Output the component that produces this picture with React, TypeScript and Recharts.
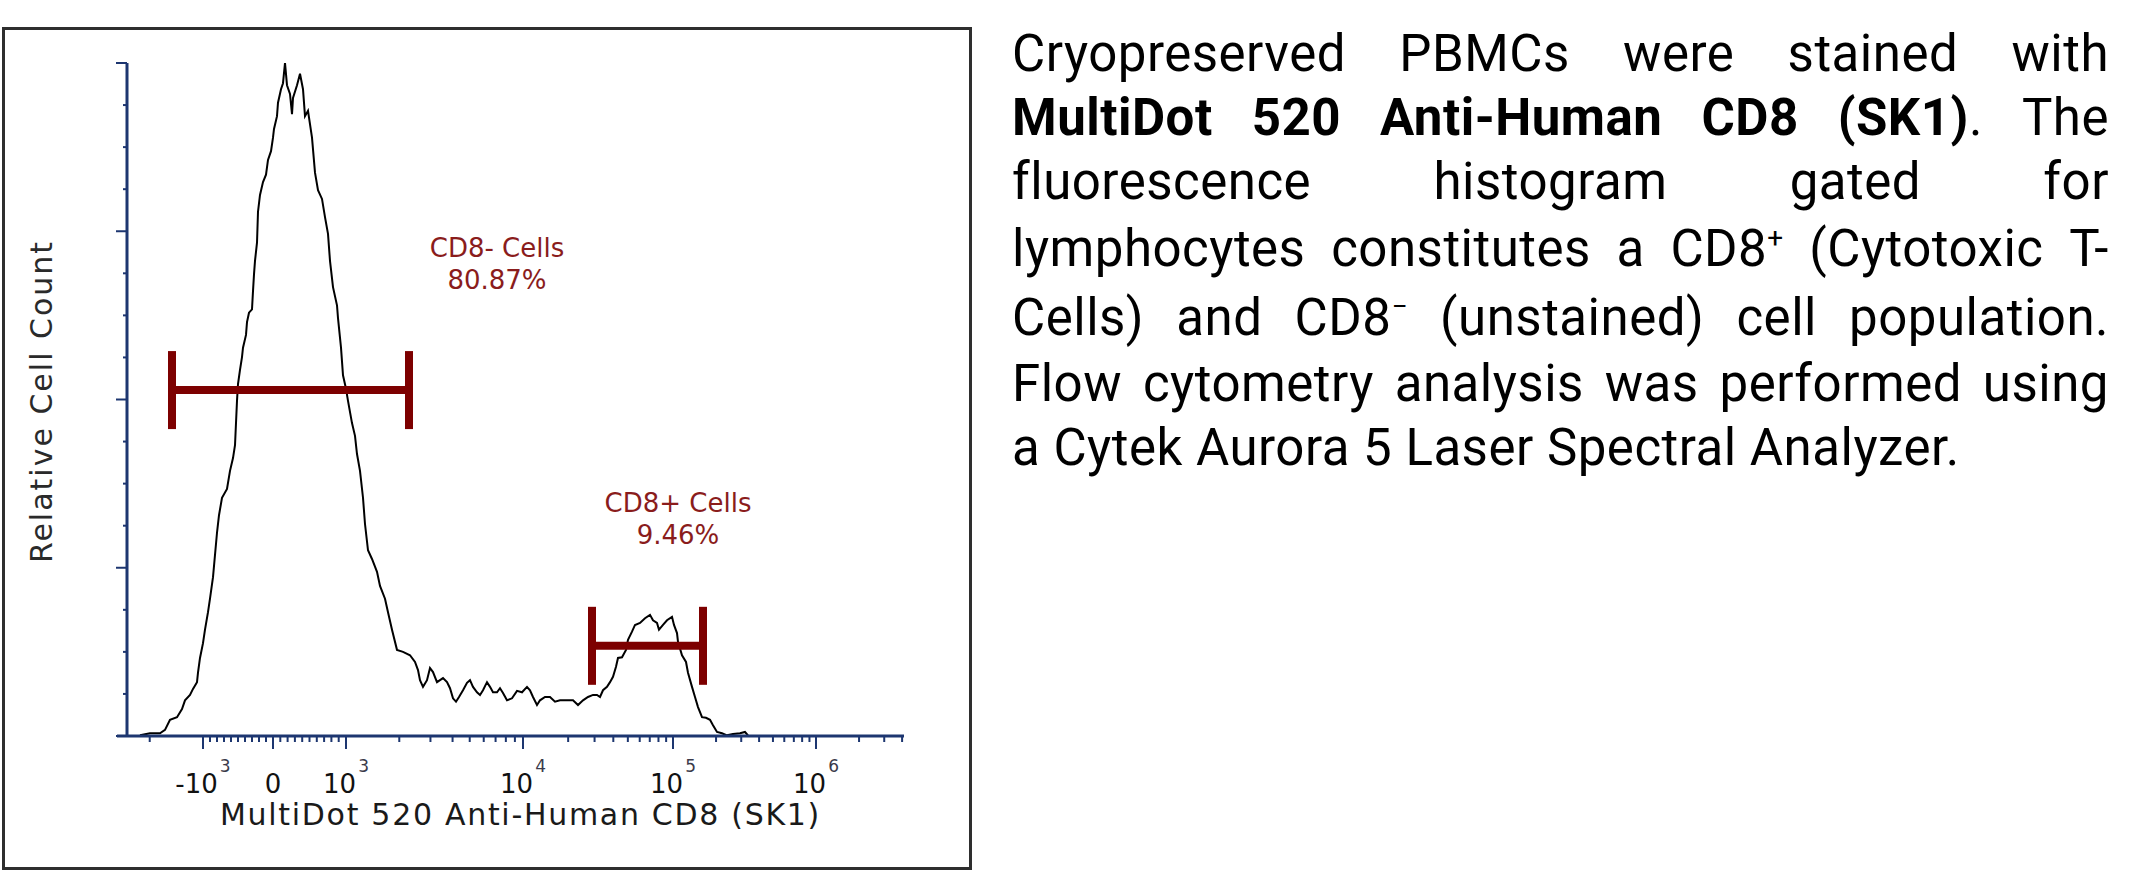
import React from 'react';
import { LineChart, Line, XAxis, YAxis, ReferenceLine, ReferenceDot, Label } from 'recharts';

// histogram trace: x = display channel on the biexponential axis, y = % of peak count
const CHANNELS = [
  13, 23, 33, 38, 43, 50, 55, 58, 63, 66, 70, 71, 73, 76, 78, 81, 83, 86, 88, 90,
  92, 95, 100, 103, 106, 108, 109, 110, 111, 113, 115, 116, 119, 120, 122, 125, 126, 127, 128, 130,
  131, 133, 136, 139, 141, 144, 146, 147, 150, 151, 154, 156, 158, 160, 163, 165, 166, 170, 173, 176,
  178, 181, 185, 188, 191, 195, 198, 201, 203, 206, 210, 211, 214, 216, 219, 221, 225, 228, 230, 233,
  236, 238, 241, 245, 250, 253, 258, 261, 265, 270, 276, 283, 288, 291, 293, 296, 300, 303, 306, 310,
  313, 316, 320, 323, 326, 329, 332, 336, 340, 343, 346, 350, 353, 356, 360, 363, 366, 370, 373, 376,
  380, 385, 390, 395, 400, 403, 406, 410, 413, 418, 423, 428, 433, 440, 446, 451, 456, 461, 466, 470,
  473, 476, 480, 483, 486, 489, 491, 495, 499, 501, 505, 508, 513, 518, 523, 526, 530, 532, 536, 540,
  545, 547, 550, 551, 555, 559, 561, 565, 568, 571, 575, 579, 583, 586, 590, 595, 600, 606, 613, 618,
  621,
];
const COUNTS = [
  0.1, 0.4, 0.4, 0.9, 2.4, 2.8, 4.0, 5.3, 6.1, 7.0, 8.0, 9.4, 11.6, 13.8, 15.8, 18.4, 20.4, 23.6, 26.9, 30.2,
  32.8, 35.4, 36.7, 39.4, 41.3, 43.2, 46.5, 49.8, 52.3, 54.4, 56.3, 57.7, 59.6, 61.5, 62.9, 63.4, 66.1, 68.6, 70.6, 73.3,
  77.9, 80.4, 82.3, 83.4, 85.6, 86.9, 88.9, 90.2, 92.1, 94.1, 96.1, 97.0, 100, 96.7, 95.4, 92.4, 94.8, 96.7, 98.4, 96.1,
  92.1, 92.9, 88.9, 83.7, 81.1, 79.8, 77.1, 74.6, 70.6, 66.7, 64.0, 62.1, 57.7, 53.6, 51.6, 49.8, 46.5, 44.6, 41.9, 39.4,
  35.4, 31.5, 27.6, 26.3, 24.4, 22.3, 20.4, 18.4, 15.8, 12.8, 12.5, 12.0, 11.0, 9.8, 8.3, 7.3, 8.3, 10.1, 9.5, 8.0,
  8.3, 8.6, 8.0, 7.1, 5.6, 5.1, 5.8, 6.8, 7.9, 8.3, 7.3, 6.5, 6.1, 6.8, 8.0, 7.3, 6.5, 6.5, 7.1, 6.4,
  5.3, 5.6, 6.7, 6.5, 7.3, 6.8, 5.8, 4.6, 5.3, 5.8, 5.8, 5.1, 5.3, 5.3, 5.3, 4.6, 5.3, 5.8, 6.1, 6.1,
  5.8, 6.8, 7.3, 8.0, 8.8, 10.3, 11.6, 11.7, 12.8, 14.3, 15.5, 16.5, 16.8, 17.5, 18.0, 17.2, 16.8, 15.8, 16.5, 17.2,
  17.7, 16.5, 15.3, 14.0, 12.0, 11.0, 9.4, 7.3, 5.8, 4.3, 2.8, 2.7, 2.4, 1.6, 0.6, 0.4, 0.1, 0.3, 0.4, 0.6,
  0.1,
];

// gates
const GATE_NAMES = ['CD8- Cells', 'CD8+ Cells'];
const GATE_PERCENTS = ['80.87%', '9.46%'];
const GATE_STARTS = [45, 465];
const GATE_ENDS = [282, 576];
const GATE_LEVELS = [51.4, 13.4];
// where each gate's caption sits (channel, % of peak)
const GATE_LABEL_CH = [370, 551];
const GATE_LABEL_Y = [71.2, 33.3];

// axis: channels of the decade marks
const NEG_DECADE_CH = 76; // -10^3
const ZERO_CH = 146;
const DECADE_EXPONENTS = [3, 4, 5, 6];
const DECADE_CHANNELS = [219, 396, 546, 689];
const MAJOR_VALUES = [-1000, 0, 1000, 1e4, 1e5, 1e6];
const MAJOR_BASES = ['-10', '0', '10', '10', '10', '10'];
const MAJOR_EXPONENTS = ['3', '', '3', '4', '5', '6'];
const MINOR_MULTIPLIERS = [2, 3, 4, 5, 6, 7, 8, 9];
const LINEAR_STEPS = [-900, -800, -700, -600, -500, -400, -300, -200, -100, 100, 200, 300, 400, 500, 600, 700, 800, 900];
const Y_TICKS = [0, 6.25, 12.5, 18.75, 25, 31.25, 37.5, 43.75, 50, 56.25, 62.5, 68.75, 75, 81.25, 87.5, 93.75, 100];

const NAVY = '#1d3670';
const GATE_COLOR = '#7d0000';
const LABEL_COLOR = '#8a1c1c';
const AXIS_FONT = '"DejaVu Sans", Verdana, sans-serif';
const Y_AXIS_GAP = 10; // the y axis sits at channel 0, 10 channels right of the x axis start

const toChannel = (v: number): number => {
  if (Math.abs(v) <= 1000) {
    return v < 0
      ? ZERO_CH + (v / 1000) * (ZERO_CH - NEG_DECADE_CH)
      : ZERO_CH + (v / 1000) * (DECADE_CHANNELS[0] - ZERO_CH);
  }
  if (v < 0) return NEG_DECADE_CH - (Math.log10(-v) - 3) * (DECADE_CHANNELS[1] - DECADE_CHANNELS[0]);
  const lg = Math.log10(v);
  const d = Math.min(Math.floor(lg) - DECADE_EXPONENTS[0], DECADE_CHANNELS.length - 2);
  return DECADE_CHANNELS[d] + (lg - DECADE_EXPONENTS[0] - d) * (DECADE_CHANNELS[d + 1] - DECADE_CHANNELS[d]);
};

type TickInfo = { ch: number; major: boolean; base: string; exp: string };
const tickInfos: TickInfo[] = [];
MAJOR_VALUES.forEach((v, i) => tickInfos.push({ ch: toChannel(v), major: true, base: MAJOR_BASES[i], exp: MAJOR_EXPONENTS[i] }));
LINEAR_STEPS.forEach((v) => tickInfos.push({ ch: toChannel(v), major: false, base: '', exp: '' }));
tickInfos.push({ ch: toChannel(-2000), major: false, base: '', exp: '' });
[1e3, 1e4, 1e5].forEach((dec) =>
  MINOR_MULTIPLIERS.forEach((m) => tickInfos.push({ ch: toChannel(m * dec), major: false, base: '', exp: '' })),
);
[2e6, 3e6, 4e6].forEach((v) => tickInfos.push({ ch: toChannel(v), major: false, base: '', exp: '' }));
tickInfos.sort((a, b) => a.ch - b.ch);
const X_TICKS = tickInfos.map((t) => t.ch);

const histData = CHANNELS.map((ch, i) => ({ ch, count: COUNTS[i] }));
const gateData = GATE_NAMES.map((_, i) => [
  { ch: GATE_STARTS[i], level: GATE_LEVELS[i] },
  { ch: GATE_ENDS[i], level: GATE_LEVELS[i] },
]);

const XTick = (props: any) => {
  const { x, y, payload } = props;
  const info = tickInfos.find((t) => Math.abs(t.ch - payload.value) < 0.001);
  if (!info) return null;
  return (
    <g>
      <line x1={x} x2={x} y1={y} y2={y + (info.major ? 13 : 6)} stroke={NAVY} strokeWidth={2} />
      {info.major && (
        <text x={x} y={y + 57} textAnchor="middle" fontFamily={AXIS_FONT} fontSize={26} fill="#111">
          <tspan>{info.base}</tspan>
          {info.exp && (
            <tspan dx={2} dy={-21} fontSize={17} fill="#3a3a4a">
              {info.exp}
            </tspan>
          )}
        </text>
      )}
    </g>
  );
};

const YTick = (props: any) => {
  const { x, y, index } = props;
  const ax = x + Y_AXIS_GAP;
  const len = index % 4 === 0 ? 11 : 4;
  return <line x1={ax - len} x2={ax} y1={y} y2={y} stroke={NAVY} strokeWidth={2} />;
};

const GateCap = (props: any) => {
  const { cx, cy, index } = props;
  if (cx == null || cy == null) return null;
  return <rect key={index} x={cx - 4} y={cy - 39} width={8} height={78} fill={GATE_COLOR} />;
};

const GateCaption = (i: number) => (props: any) => {
  const { cx, cy } = props;
  return (
    <g>
      <text x={cx} y={cy} textAnchor="middle" fontFamily={AXIS_FONT} fontSize={26} fill={LABEL_COLOR}>
        {GATE_NAMES[i]}
      </text>
      <text x={cx} y={cy + 32} textAnchor="middle" fontFamily={AXIS_FONT} fontSize={26} fill={LABEL_COLOR}>
        {GATE_PERCENTS[i]}
      </text>
    </g>
  );
};

const lineStyle = (top: number): React.CSSProperties => ({
  position: 'absolute',
  left: 1012,
  top: top - 49,
  width: 1097,
  height: 64,
  lineHeight: '64px',
  display: 'flex',
  justifyContent: 'space-between',
  alignItems: 'baseline',
  whiteSpace: 'nowrap',
});

const sup: React.CSSProperties = { fontSize: 28, position: 'relative', top: -19, verticalAlign: 'baseline' };

const Words = ({ words }: { words: React.ReactNode[] }) => (
  <>
    {words.map((w, i) => (
      <span key={i}>{w}</span>
    ))}
  </>
);

const Caption = () => (
  <div style={{ fontFamily: 'Roboto, "Noto Sans", sans-serif', fontSize: 51, letterSpacing: 0.5, color: '#000' }}>
    <div style={lineStyle(71)}>
      <Words words={['Cryopreserved', 'PBMCs', 'were', 'stained', 'with']} />
    </div>
    <div style={lineStyle(135)}>
      <Words
        words={[
          <b>MultiDot</b>,
          <b>520</b>,
          <b>Anti-Human</b>,
          <b>CD8</b>,
          <>
            <b>(SK1)</b>.
          </>,
          'The',
        ]}
      />
    </div>
    <div style={lineStyle(199)}>
      <Words words={['fluorescence', 'histogram', 'gated', 'for']} />
    </div>
    <div style={lineStyle(266)}>
      <Words
        words={[
          'lymphocytes',
          'constitutes',
          'a',
          <>
            CD8<span style={sup}>+</span>
          </>,
          '(Cytotoxic',
          'T-',
        ]}
      />
    </div>
    <div style={lineStyle(335)}>
      <Words
        words={[
          'Cells)',
          'and',
          <>
            CD8<span style={sup}>−</span>
          </>,
          '(unstained)',
          'cell',
          'population.',
        ]}
      />
    </div>
    <div style={lineStyle(401)}>
      <Words words={['Flow', 'cytometry', 'analysis', 'was', 'performed', 'using']} />
    </div>
    <div style={{ ...lineStyle(465), display: 'block' }}>a Cytek Aurora 5 Laser Spectral Analyzer.</div>
  </div>
);

export default function App() {
  return (
    <div style={{ position: 'absolute', left: 0, top: 0, width: 2131, height: 873, background: '#fff', overflow: 'hidden' }}>
      <div
        style={{
          position: 'absolute',
          left: 2,
          top: 27,
          width: 970,
          height: 843,
          border: '3px solid #2e2e2e',
          boxSizing: 'border-box',
        }}
      />
      <div style={{ position: 'absolute', left: 0, top: 0 }}>
        <LineChart width={980} height={873} data={histData} margin={{ top: 63, right: 76, bottom: 77, left: 97 }}>
          <XAxis
            dataKey="ch"
            type="number"
            domain={[-10, 777]}
            allowDataOverflow
            ticks={X_TICKS}
            interval={0}
            tickLine={false}
            tickSize={0}
            tickMargin={0}
            axisLine={{ stroke: NAVY, strokeWidth: 3 }}
            tick={<XTick />}
            height={60}
          >
            <Label
              content={(p: any) => {
                const vb = p.viewBox;
                return (
                  <text
                    x={vb.x + vb.width / 2 + 10}
                    y={vb.y + 89}
                    textAnchor="middle"
                    fontFamily={AXIS_FONT}
                    fontSize={30}
                    letterSpacing={1.7}
                    fill="#1a1a1a"
                  >
                    MultiDot 520 Anti-Human CD8 (SK1)
                  </text>
                );
              }}
            />
          </XAxis>
          <YAxis
            type="number"
            domain={[0, 100]}
            allowDataOverflow
            ticks={Y_TICKS}
            interval={0}
            tickLine={false}
            tickSize={0}
            tickMargin={0}
            axisLine={false}
            tick={<YTick />}
            width={20}
          >
            <Label
              content={(p: any) => {
                const vb = p.viewBox;
                const cx = vb.x - 45;
                const cy = vb.y + vb.height / 2 + 2;
                return (
                  <text
                    x={cx}
                    y={cy}
                    transform={`rotate(-90 ${cx} ${cy})`}
                    textAnchor="middle"
                    fontFamily={AXIS_FONT}
                    fontSize={30}
                    letterSpacing={2}
                    fill="#2a2a2a"
                  >
                    Relative Cell Count
                  </text>
                );
              }}
            />
          </YAxis>
          <ReferenceLine x={0} stroke={NAVY} strokeWidth={3} ifOverflow="visible" />
          <Line
            dataKey="count"
            type="linear"
            stroke="#000"
            strokeWidth={2}
            dot={false}
            activeDot={false}
            isAnimationActive={false}
          />
          {gateData.map((d, i) => (
            <Line
              key={GATE_NAMES[i]}
              data={d}
              dataKey="level"
              type="linear"
              stroke={GATE_COLOR}
              strokeWidth={8}
              dot={<GateCap />}
              activeDot={false}
              isAnimationActive={false}
            />
          ))}
          {GATE_NAMES.map((name, i) => (
            <ReferenceDot
              key={name}
              x={GATE_LABEL_CH[i]}
              y={GATE_LABEL_Y[i]}
              r={0}
              ifOverflow="visible"
              shape={GateCaption(i)}
            />
          ))}
        </LineChart>
      </div>
      <Caption />
    </div>
  );
}
